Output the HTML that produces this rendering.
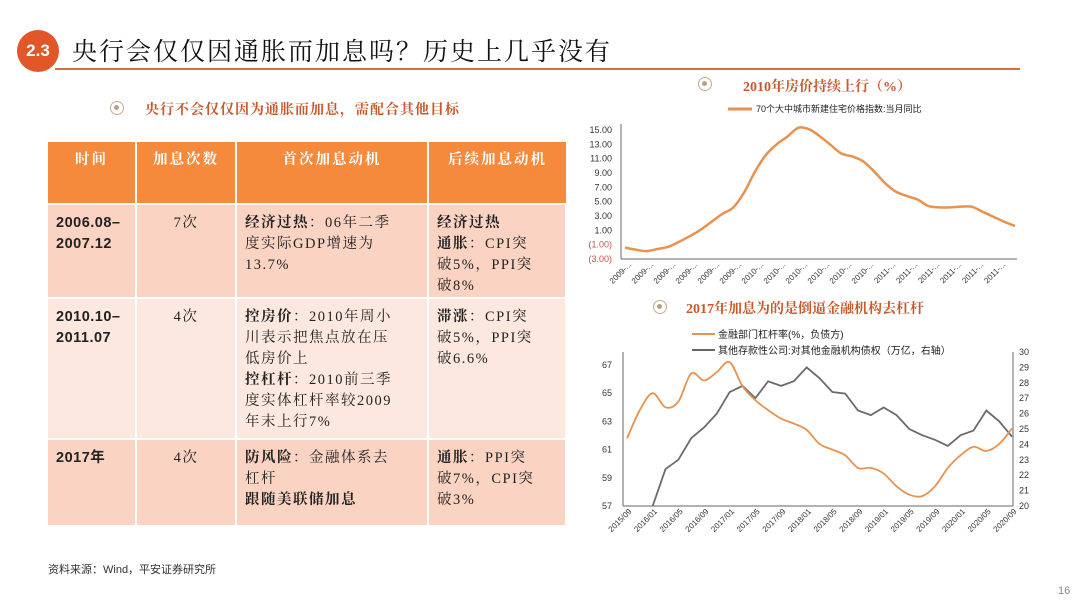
<!DOCTYPE html>
<html><head><meta charset="utf-8">
<style>
*{margin:0;padding:0;box-sizing:border-box}
body{width:1080px;height:608px;background:#fff;position:relative;overflow:hidden;font-family:"Liberation Sans","Noto Sans CJK SC",sans-serif;color:#222}
.abs{position:absolute}
#badge{left:17px;top:30px;width:42px;height:42px;border-radius:50%;background:#e2572a;color:#fff;font-weight:bold;font-size:17px;line-height:42px;text-align:center}
#title{left:72px;top:32px;font-family:"Liberation Serif","Noto Serif CJK SC",serif;font-size:25px;letter-spacing:2px;color:#111}
#rule{left:55px;top:68px;width:965px;height:2px;background:#d4703c}
.bullet{width:14px;height:14px;border-radius:50%;border:1.5px solid #c9a98a;background:#fff}
.bullet::after{content:"";position:absolute;left:3px;top:3px;width:5px;height:5px;border-radius:50%;background:#b9a080}
#sub{left:145px;top:99px;font-family:"Liberation Serif","Noto Serif CJK SC",serif;font-weight:bold;font-size:14px;color:#c65a2c;letter-spacing:1px}
table{position:absolute;left:48px;top:142px;border-collapse:collapse;font-family:"Liberation Serif","Noto Serif CJK SC",serif}
td,th{vertical-align:top;border-right:2px solid #fff;border-bottom:2px solid #fff;font-size:14.5px;line-height:21px;letter-spacing:1.5px;padding:8px 8px 0 8px}
th{background:#f68a3c;color:#fff;height:62px;font-weight:bold;padding-top:8px;letter-spacing:2px}
.r1 td,.r3 td{background:#fbd3c3}
.r2 td{background:#fde8df}
b{font-weight:bold}
.n{font-family:"Liberation Sans","Noto Sans CJK SC",sans-serif;letter-spacing:0.5px}
#src{left:48px;top:561px;font-size:11px;color:#333;font-family:"Liberation Sans","Noto Sans CJK SC",sans-serif}
#pg{left:1058px;top:585px;font-size:11px;color:#888}
.ct{font-family:"Liberation Serif","Noto Serif CJK SC",serif;font-weight:bold;font-size:14px;color:#c65a2c}
</style></head><body>
<div id="badge" class="abs">2.3</div>
<div id="title" class="abs">央行会仅仅因通胀而加息吗？历史上几乎没有</div>
<div id="rule" class="abs"></div>
<div class="abs bullet" style="left:110px;top:101px"></div>
<div id="sub" class="abs">央行不会仅仅因为通胀而加息，需配合其他目标</div>

<table>
<tr>
<th style="width:88px">时间</th>
<th style="width:100px">加息次数</th>
<th style="width:192px">首次加息动机</th>
<th style="width:138px;border-right:none">后续加息动机</th></tr>
<tr class="r1" style="height:94px">
<td class="n"><b>2006.08–<br>2007.12</b></td>
<td style="text-align:center">7次</td>
<td><b>经济过热</b>：06年二季<br>度实际GDP增速为<br>13.7%</td>
<td><b>经济过热<br>通胀</b>：CPI突<br>破5%，PPI突<br>破8%</td></tr>
<tr class="r2" style="height:141px">
<td class="n"><b>2010.10–<br>2011.07</b></td>
<td style="text-align:center">4次</td>
<td><b>控房价</b>：2010年周小<br>川表示把焦点放在压<br>低房价上<br><b>控杠杆</b>：2010前三季<br>度实体杠杆率较2009<br>年末上行7%</td>
<td><b>滞涨</b>：CPI突<br>破5%，PPI突<br>破6.6%</td></tr>
<tr class="r3" style="height:87px">
<td class="n"><b>2017年</b></td>
<td style="text-align:center">4次</td>
<td><b>防风险</b>：金融体系去<br>杠杆<br><b>跟随美联储加息</b></td>
<td><b>通胀</b>：PPI突<br>破7%，CPI突<br>破3%</td></tr>
</table>
<div id="src" class="abs">资料来源：Wind，平安证券研究所</div>
<div id="pg" class="abs">16</div>

<div class="abs bullet" style="left:698px;top:77px"></div>
<div class="abs ct" style="left:743px;top:76px">2010年房价持续上行（%）</div>
<div class="abs bullet" style="left:653px;top:300px"></div>
<div class="abs ct" style="left:686px;top:298px">2017年加息为的是倒逼金融机构去杠杆</div>

<svg id="c1" class="abs" style="left:0;top:0" width="1080" height="608"></svg>

<script>
// Chart 1 data
const c1Values=[-1.4,-1.7,-1.9,-1.6,-1.3,-0.6,0.2,1.1,2.2,3.3,4.2,6.3,9.2,11.5,13.0,14.1,15.3,15.1,14.1,12.9,11.7,11.3,10.6,9.2,7.6,6.4,5.8,5.3,4.4,4.2,4.2,4.3,4.3,3.6,2.9,2.2,1.6];
const c1YTicks=[15,13,11,9,7,5,3,1,-1,-3];
const c1XLabels=["2009-...","2009-...","2009-...","2009-...","2009-...","2009-...","2010-...","2010-...","2010-...","2010-...","2010-...","2010-...","2011-...","2011-...","2011-...","2011-...","2011-...","2011-..."];
// Chart 2 data
const c2Labels=["2015/09","2016/01","2016/05","2016/09","2017/01","2017/05","2017/09","2018/01","2018/05","2018/09","2019/01","2019/05","2019/09","2020/01","2020/05","2020/09"];
const c2Leverage=[61.8,63.8,65.0,64.0,64.4,66.4,65.9,66.5,67.2,65.5,64.5,63.8,63.2,62.85,62.4,61.4,61.0,60.6,59.7,59.7,59.3,58.4,57.8,57.7,58.4,59.7,60.6,61.2,60.9,61.4,62.5];
const c2Claims=[17.5,18.5,20.0,22.4,23.0,24.4,25.1,26.0,27.4,27.8,27.0,28.1,27.8,28.1,29.0,28.3,27.4,27.3,26.2,25.9,26.4,25.9,25.0,24.6,24.3,23.9,24.6,24.9,26.2,25.5,24.5];
const c2LeftTicks=[57,59,61,63,65,67];
const c2RightTicks=[20,21,22,23,24,25,26,27,28,29,30];

const svg=document.getElementById('c1');
const NS='http://www.w3.org/2000/svg';
function mk(tag,attrs,parent){const e=document.createElementNS(NS,tag);for(const k in attrs)e.setAttribute(k,attrs[k]);(parent||svg).appendChild(e);return e;}
function smooth(pts){let d='M'+pts[0][0]+','+pts[0][1];for(let i=0;i<pts.length-1;i++){const p0=pts[Math.max(0,i-1)],p1=pts[i],p2=pts[i+1],p3=pts[Math.min(pts.length-1,i+2)];const c1x=p1[0]+(p2[0]-p0[0])/6,c1y=p1[1]+(p2[1]-p0[1])/6,c2x=p2[0]-(p3[0]-p1[0])/6,c2y=p2[1]-(p3[1]-p1[1])/6;d+=` C${c1x},${c1y} ${c2x},${c2y} ${p2[0]},${p2[1]}`;}return d;}
const font='"Liberation Sans","Noto Sans CJK SC",sans-serif';

// ---- Chart 1 ----
const x1=i=>625+i*(1015-625)/(c1Values.length-1);
const y1=v=>130+(15-v)*(259-130)/18;
let e;
e=mk('line',{x1:728,y1:109,x2:752,y2:109,stroke:'#e8924e','stroke-width':3});

e=mk('text',{x:756,y:112,'font-size':9,'font-family':font,fill:'#222'});e.textContent='70个大中城市新建住宅价格指数:当月同比';

e=mk('line',{x1:621,y1:124,x2:621,y2:259,stroke:'#666','stroke-width':1});

e=mk('line',{x1:621,y1:259,x2:1017,y2:259,stroke:'#666','stroke-width':1});

c1YTicks.forEach(v=>{const t=mk('text',{x:612,y:y1(v)+3,'text-anchor':'end','font-size':9,'font-family':font,fill:v<0?'#c0504d':'#333'});
t.textContent=v<0?'('+Math.abs(v).toFixed(2)+')':v.toFixed(2);
});
c1XLabels.forEach((s,i)=>{const x=632+i*22;const t=mk('text',{x:x,y:265,'text-anchor':'end','font-size':8,'font-family':font,fill:'#333',transform:`rotate(-45 ${x} 265)`});t.textContent=s;
});
e=mk('path',{d:smooth(c1Values.map((v,i)=>[x1(i),y1(v)])),fill:'none',stroke:'#e8924e','stroke-width':2.5});


// ---- Chart 2 ----
const x2=i=>627+i*(1012-627)/(c2Leverage.length-1);
const yl=v=>506-(v-57)*141/10;
const yr=v=>506-(v-20)*154/10;
e=mk('line',{x1:692,y1:334,x2:715,y2:334,stroke:'#e8924e','stroke-width':2});

e=mk('text',{x:718,y:338,'font-size':10,'font-family':font,fill:'#222'});e.textContent='金融部门杠杆率(%，负债方)';

e=mk('line',{x1:692,y1:350,x2:715,y2:350,stroke:'#666','stroke-width':2});

e=mk('text',{x:718,y:354,'font-size':10,'font-family':font,fill:'#222'});e.textContent='其他存款性公司:对其他金融机构债权（万亿，右轴）';

e=mk('line',{x1:623,y1:352,x2:623,y2:506,stroke:'#666'});

e=mk('line',{x1:1013,y1:352,x2:1013,y2:506,stroke:'#666'});

e=mk('line',{x1:623,y1:506,x2:1013,y2:506,stroke:'#666'});

c2LeftTicks.forEach(v=>{const t=mk('text',{x:612,y:yl(v)+3,'text-anchor':'end','font-size':9,'font-family':font,fill:'#333'});t.textContent=v;
});
c2RightTicks.forEach(v=>{const t=mk('text',{x:1019,y:yr(v)+3,'font-size':9,'font-family':font,fill:'#333'});t.textContent=v;
});
c2Labels.forEach((s,i)=>{const x=632+i*(1012-627)/(c2Labels.length-1);const t=mk('text',{x:x,y:512,'text-anchor':'end','font-size':8,'font-family':font,fill:'#333',transform:`rotate(-45 ${x} 512)`});t.textContent=s;
});
const cp=mk('clipPath',{id:'clip2'});mk('rect',{x:623,y:352,width:390,height:154},cp);
e=mk('polyline',{points:c2Claims.map((v,i)=>x2(i)+','+yr(v)).join(' '),fill:'none',stroke:'#6b6b6b','stroke-width':1.8,'clip-path':'url(#clip2)'});

e=mk('path',{d:smooth(c2Leverage.map((v,i)=>[x2(i),yl(v)])),fill:'none',stroke:'#e8924e','stroke-width':1.8});

</script>
</body></html>
